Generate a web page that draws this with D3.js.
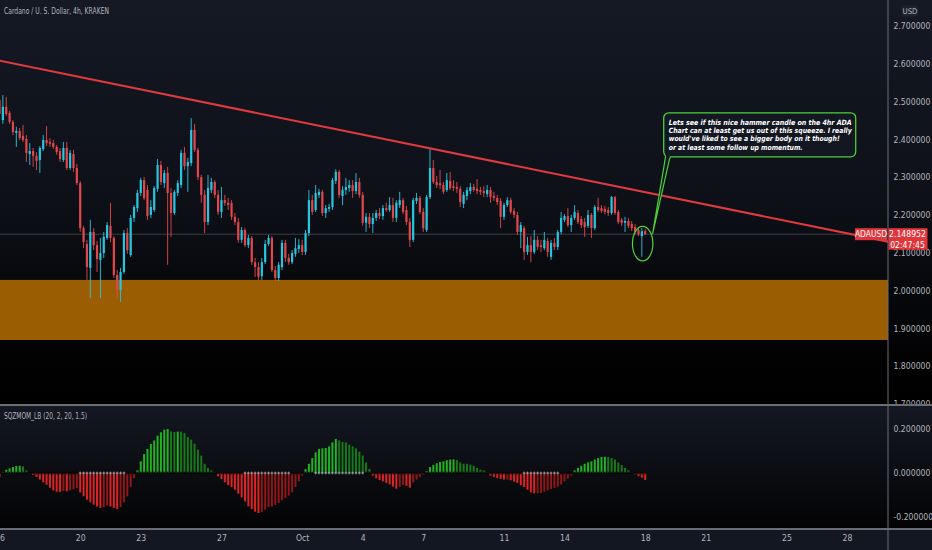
<!DOCTYPE html>
<html><head><meta charset="utf-8">
<script src="https://cdn.jsdelivr.net/npm/d3@7/dist/d3.min.js"></script>
<style>html,body{margin:0;padding:0;background:#131722;overflow:hidden}</style>
</head><body><svg id="c" width="932" height="550"></svg>
<script>
// ---------- DATA ----------
const startTime = "2021-09-16T00:00:00Z";
const barHours = 4;
const opens = [2.504,2.451,2.486,2.470,2.446,2.417,2.422,2.409,2.401,2.361,
2.369,2.356,2.345,2.374,2.398,2.393,2.390,2.380,2.369,2.345,
2.377,2.324,2.361,2.324,2.284,2.165,2.123,2.060,2.155,2.120,
2.081,2.099,2.139,2.171,2.139,2.041,2.001,2.049,2.152,2.094,
2.192,2.218,2.258,2.292,2.266,2.200,2.213,2.269,2.332,2.284,
2.311,2.258,2.205,2.258,2.279,2.364,2.329,2.337,2.425,2.372,
2.300,2.253,2.181,2.266,2.287,2.253,2.208,2.239,2.232,2.232,
2.195,2.181,2.134,2.160,2.120,2.139,2.075,2.062,2.038,2.075,
2.123,2.139,2.054,2.033,2.062,2.126,2.086,2.075,2.097,2.110,
2.120,2.102,2.152,2.239,2.213,2.253,2.261,2.205,2.216,2.221,
2.290,2.314,2.250,2.266,2.271,2.279,2.263,2.287,2.253,2.179,
2.195,2.176,2.192,2.205,2.197,2.218,2.213,2.226,2.192,2.226,
2.239,2.213,2.181,2.134,2.237,2.245,2.208,2.160,2.247,2.324,
2.287,2.284,2.279,2.266,2.290,2.276,2.274,2.269,2.229,2.250,
2.263,2.274,2.269,2.266,2.263,2.255,2.266,2.250,2.245,2.237,
2.195,2.226,2.239,2.210,2.200,2.155,2.165,2.102,2.120,2.102,
2.134,2.120,2.112,2.131,2.089,2.126,2.115,2.155,2.187,2.197,
2.173,2.192,2.205,2.189,2.181,2.171,2.200,2.165,2.221,2.218,
2.216,2.213,2.205,2.247,2.208,2.187,2.179,2.184,2.176,2.168,
2.160,2.144,2.157];
const highs = [2.515,2.517,2.512,2.475,2.451,2.433,2.430,2.438,2.411,2.390,
2.377,2.366,2.382,2.411,2.435,2.403,2.398,2.385,2.377,2.393,
2.393,2.372,2.372,2.335,2.290,2.171,2.134,2.187,2.165,2.131,
2.139,2.155,2.181,2.232,2.144,2.054,2.060,2.160,2.165,2.200,
2.226,2.266,2.298,2.300,2.279,2.239,2.276,2.348,2.343,2.319,
2.327,2.271,2.266,2.292,2.372,2.380,2.351,2.456,2.441,2.377,
2.306,2.266,2.306,2.298,2.292,2.266,2.274,2.253,2.245,2.239,
2.205,2.192,2.168,2.165,2.147,2.144,2.086,2.075,2.086,2.134,
2.147,2.144,2.065,2.075,2.134,2.134,2.097,2.107,2.139,2.136,
2.134,2.160,2.266,2.253,2.279,2.269,2.266,2.226,2.229,2.298,
2.321,2.319,2.276,2.298,2.292,2.292,2.311,2.298,2.261,2.205,
2.205,2.205,2.213,2.218,2.226,2.232,2.247,2.245,2.239,2.261,
2.245,2.224,2.192,2.245,2.258,2.250,2.218,2.253,2.377,2.345,
2.303,2.319,2.287,2.311,2.314,2.292,2.287,2.276,2.261,2.274,
2.284,2.282,2.295,2.274,2.276,2.279,2.274,2.261,2.253,2.245,
2.232,2.247,2.245,2.218,2.208,2.181,2.171,2.142,2.144,2.160,
2.144,2.134,2.155,2.139,2.134,2.139,2.160,2.208,2.202,2.218,
2.200,2.226,2.213,2.197,2.192,2.213,2.205,2.226,2.245,2.226,
2.224,2.221,2.250,2.250,2.213,2.192,2.195,2.192,2.184,2.176,
2.165,2.165,2.163];
const lows = [2.462,2.441,2.462,2.441,2.411,2.380,2.398,2.393,2.340,2.332,
2.327,2.319,2.311,2.369,2.382,2.380,2.374,2.359,2.340,2.340,
2.319,2.319,2.314,2.279,2.155,2.112,2.028,1.980,2.107,2.049,
1.980,2.086,2.134,2.128,2.033,1.980,1.970,2.044,2.097,2.089,
2.181,2.208,2.250,2.239,2.187,2.192,2.208,2.261,2.279,2.271,
2.068,2.142,2.200,2.250,2.271,2.319,2.261,2.329,2.366,2.292,
2.232,2.152,2.173,2.258,2.245,2.200,2.192,2.224,2.213,2.187,
2.173,2.126,2.126,2.115,2.112,2.068,2.036,2.028,2.028,2.070,
2.118,2.049,2.025,2.025,2.054,2.075,2.068,2.070,2.089,2.099,
2.094,2.094,2.144,2.200,2.208,2.245,2.197,2.192,2.208,2.213,
2.282,2.245,2.226,2.253,2.261,2.245,2.255,2.245,2.171,2.155,
2.165,2.152,2.184,2.189,2.187,2.208,2.208,2.181,2.181,2.218,
2.202,2.173,2.115,2.128,2.229,2.202,2.155,2.155,2.242,2.282,
2.271,2.269,2.255,2.261,2.266,2.263,2.258,2.221,2.218,2.239,
2.255,2.261,2.255,2.253,2.247,2.247,2.232,2.237,2.226,2.165,
2.187,2.221,2.202,2.192,2.147,2.112,2.081,2.094,2.075,2.097,
2.107,2.102,2.107,2.089,2.081,2.107,2.107,2.149,2.181,2.168,
2.155,2.187,2.176,2.165,2.142,2.165,2.139,2.160,2.208,2.205,
2.202,2.197,2.200,2.200,2.176,2.171,2.155,2.165,2.157,2.149,
2.144,2.089,2.147];
const closes = [2.467,2.486,2.467,2.446,2.419,2.422,2.403,2.398,2.364,2.369,
2.356,2.343,2.377,2.398,2.390,2.388,2.380,2.366,2.348,2.377,
2.324,2.364,2.324,2.284,2.165,2.128,2.062,2.155,2.120,2.083,
2.099,2.142,2.173,2.139,2.041,2.001,2.049,2.152,2.107,2.192,
2.221,2.258,2.292,2.245,2.197,2.221,2.271,2.332,2.287,2.311,
2.258,2.205,2.261,2.284,2.364,2.329,2.340,2.425,2.372,2.300,
2.253,2.181,2.271,2.287,2.253,2.208,2.239,2.232,2.226,2.195,
2.181,2.134,2.160,2.120,2.139,2.075,2.062,2.036,2.075,2.123,
2.139,2.054,2.033,2.068,2.126,2.086,2.075,2.099,2.112,2.120,
2.102,2.152,2.239,2.208,2.258,2.261,2.205,2.218,2.221,2.292,
2.314,2.253,2.266,2.274,2.279,2.263,2.287,2.253,2.179,2.195,
2.176,2.192,2.205,2.197,2.218,2.213,2.226,2.192,2.232,2.239,
2.208,2.181,2.134,2.239,2.245,2.208,2.165,2.247,2.324,2.287,
2.279,2.279,2.261,2.292,2.271,2.271,2.269,2.234,2.253,2.266,
2.274,2.266,2.263,2.261,2.258,2.266,2.247,2.245,2.234,2.195,
2.226,2.239,2.208,2.200,2.155,2.173,2.102,2.120,2.102,2.134,
2.115,2.115,2.134,2.102,2.126,2.115,2.155,2.192,2.197,2.173,
2.192,2.208,2.181,2.173,2.168,2.200,2.165,2.221,2.213,2.210,
2.208,2.205,2.247,2.205,2.181,2.179,2.184,2.171,2.165,2.155,
2.149,2.157,2.149];
const momentum = [-0.018,0.005,0.015,0.021,0.027,0.032,0.033,0.030,0.012,-0.003,
-0.009,-0.018,-0.030,-0.042,-0.053,-0.067,-0.079,-0.085,-0.086,-0.082,
-0.083,-0.079,-0.073,-0.068,-0.088,-0.106,-0.121,-0.133,-0.144,-0.152,
-0.159,-0.155,-0.148,-0.152,-0.159,-0.164,-0.155,-0.133,-0.106,-0.064,
-0.023,0.012,0.053,0.086,0.109,0.132,0.148,0.170,0.185,0.197,
0.200,0.189,0.186,0.188,0.188,0.182,0.164,0.152,0.133,0.106,
0.079,0.042,0.023,0.012,0.003,-0.015,-0.027,-0.042,-0.055,-0.064,
-0.076,-0.094,-0.111,-0.129,-0.152,-0.164,-0.176,-0.182,-0.177,-0.167,
-0.155,-0.152,-0.145,-0.136,-0.124,-0.114,-0.103,-0.088,-0.064,-0.038,
-0.012,0.018,0.042,0.068,0.094,0.109,0.112,0.114,0.121,0.139,
0.155,0.148,0.141,0.139,0.129,0.121,0.112,0.097,0.079,0.048,
0.018,-0.012,-0.024,-0.032,-0.038,-0.045,-0.052,-0.062,-0.071,-0.064,
-0.055,-0.058,-0.067,-0.042,-0.030,-0.018,-0.008,0.008,0.027,0.036,
0.044,0.050,0.053,0.058,0.061,0.062,0.059,0.048,0.042,0.042,
0.038,0.033,0.023,0.015,0.012,0.003,-0.012,-0.018,-0.023,-0.027,
-0.030,-0.030,-0.033,-0.039,-0.045,-0.055,-0.064,-0.076,-0.088,-0.092,
-0.092,-0.091,-0.085,-0.079,-0.073,-0.068,-0.062,-0.052,-0.038,-0.026,
-0.012,0.012,0.023,0.033,0.042,0.048,0.053,0.061,0.068,0.073,
0.074,0.073,0.068,0.061,0.048,0.036,0.023,0.012,0.003,-0.006,
-0.014,-0.021,-0.032];
const sqzOffRanges = [[24,37],[73,86],[94,108],[156,166]];
const priceTicks = [2.7,2.6,2.5,2.4,2.3,2.2,2.1,2.0,1.9,1.8,1.7];
const momTicks = [0.2,0,-0.2];
const dateTicks = ["2021-09-16","2021-09-20","2021-09-23","2021-09-27","2021-10-01","2021-10-04","2021-10-07","2021-10-11","2021-10-14","2021-10-18","2021-10-21","2021-10-25","2021-10-28"];
const dateLabels = ["16","20","23","27","Oct","4","7","11","14","18","21","25","28"];
const zoneTop = 2.028, zoneBottom = 1.869;
const trendPts = [["2021-09-16T00:00:00Z",2.608],["2021-10-07T08:00:00Z",2.376]];
const lastPrice = 2.148952;
const countdown = "02:47:45";
const symbol = "ADAUSD";
const title = "Cardano / U. S. Dollar, 4h, KRAKEN";
const indTitle = "SQZMOM_LB (20, 2, 20, 1.5)";
const noteLines = ["Lets see if this nice hammer candle on the 4hr ADA",
  "Chart can at least get us out of this squeeze. I really",
  "would've liked to see a bigger body on it though!",
  "or at least some follow up momentum."];
const noteAt = ["2021-10-18T22:00:00Z", 2.470];
const circleAt = [191, 2.124];

// ---------- LAYOUT ----------
const W = 932, H = 550, axisX = 888;
const mainBottom = 404, indTop = 406, indBottom = 528, xAxisTop = 529;
const FONT = '"Liberation Sans Narrow","Arial Narrow","DejaVu Sans Condensed",sans-serif';
const TXT = "#b2b5be";
const UP = "#27c6e0", DOWN = "#e2474c";

const svg = d3.select("#c");
const defs = svg.append("defs");
function grad(id, stops){
  const g = defs.append("linearGradient").attr("id", id).attr("x1",0).attr("y1",0).attr("x2",0).attr("y2",1);
  stops.forEach(s => g.append("stop").attr("offset", s[0]).attr("stop-color", s[1]));
}
grad("gMain", [["0%","#151924"],["50%","#0d1017"],["88%","#020203"],["100%","#000"]]);
grad("gInd", [["0%","#141822"],["100%","#030304"]]);
function clip(id, x, y, w, h){ defs.append("clipPath").attr("id", id).append("rect").attr("x",x).attr("y",y).attr("width",w).attr("height",h); }
clip("cMain", 0, 0, axisX, mainBottom);
clip("cInd", 0, indTop, axisX, indBottom - indTop);
clip("cAxMain", axisX, 0, W - axisX, mainBottom);
clip("cXAx", 0, xAxisTop, axisX, H - xAxisTop);

svg.append("rect").attr("x",0).attr("y",0).attr("width",W).attr("height",mainBottom+1).attr("fill","url(#gMain)");
svg.append("rect").attr("x",0).attr("y",indTop-1).attr("width",W).attr("height",indBottom-indTop+2).attr("fill","url(#gInd)");
svg.append("rect").attr("x",0).attr("y",xAxisTop).attr("width",W).attr("height",H-xAxisTop).attr("fill","#131722");

// ---------- SCALES ----------
const t0 = new Date(startTime).getTime();
const bars = opens.map((o, i) => ({t: new Date(t0 + i*barHours*3600e3), o, h: highs[i], l: lows[i], c: closes[i], m: momentum[i], i}));
const x = d3.scaleUtc().domain([new Date("2021-09-16T00:00:00Z"), new Date("2021-10-28T00:00:00Z")]).range([-0.5, 847]);
const y = d3.scaleLinear().domain([1.7, 2.7]).range([403.9, 25.9]);
const ym = d3.scaleLinear().domain([-0.2, 0.2]).range([517, 429]);

// ---------- MAIN PANE ----------
const gMain = svg.append("g").attr("clip-path","url(#cMain)");
gMain.append("rect").attr("x",0).attr("width",axisX)
  .attr("y", y(zoneTop)).attr("height", y(zoneBottom) - y(zoneTop)).attr("fill","#9a5d02");
gMain.append("line").attr("x1",0).attr("x2",axisX).attr("y1",y(lastPrice)).attr("y2",y(lastPrice))
  .attr("stroke","#3a3d46").attr("stroke-width",1);

const bw = 2.2;
const cg = gMain.append("g");
cg.selectAll("line.w").data(bars).join("line").attr("class","w")
  .attr("x1", d => x(d.t)).attr("x2", d => x(d.t))
  .attr("y1", d => y(d.h)).attr("y2", d => y(d.l))
  .attr("stroke", d => d.c >= d.o ? UP : DOWN).attr("stroke-width", 0.9);
cg.selectAll("rect.b").data(bars).join("rect").attr("class","b")
  .attr("x", d => x(d.t) - bw/2).attr("width", bw)
  .attr("y", d => y(Math.max(d.o, d.c)))
  .attr("height", d => Math.max(1, Math.abs(y(d.o) - y(d.c))))
  .attr("fill", d => d.c >= d.o ? UP : DOWN);

// trend line extended to the axis
const ta = {t: new Date(trendPts[0][0]), p: trendPts[0][1]}, tb = {t: new Date(trendPts[1][0]), p: trendPts[1][1]};
const slope = (tb.p - ta.p) / (tb.t - ta.t);
const tEnd = x.invert(axisX);
gMain.append("line")
  .attr("x1", x(ta.t)).attr("y1", y(ta.p))
  .attr("x2", x(tEnd)).attr("y2", y(ta.p + slope*(tEnd - ta.t)))
  .attr("stroke","#e0393f").attr("stroke-width",2.1);

// annotation
const green = "#4cd137";
const nx = x(new Date(noteAt[0])), ny = y(noteAt[1]);
const boxW = 192, boxH = 44;
const ccx = x(bars[circleAt[0]].t) + 0.8, ccy = y(circleAt[1]);
const ag = gMain.append("g");
ag.append("path")
  .attr("d", `M${nx+2},${ny+boxH-1} L${nx+6.5},${ny+boxH-1} L${ccx+10},${ccy-10} Z`)
  .attr("fill","#131722").attr("stroke",green).attr("stroke-width",1.2).attr("stroke-linejoin","round");
ag.append("rect").attr("x",nx).attr("y",ny).attr("width",boxW).attr("height",boxH).attr("rx",5)
  .attr("fill","#131722").attr("stroke",green).attr("stroke-width",1.3);
ag.append("rect").attr("x",nx+2.2).attr("y",ny+boxH-2).attr("width",3.9).attr("height",3).attr("fill","#131722");
ag.append("ellipse").attr("cx",ccx).attr("cy",ccy).attr("rx",10.2).attr("ry",17.3)
  .attr("fill","none").attr("stroke",green).attr("stroke-width",1.2);
const noteW = [183, 183, 171, 134];
ag.selectAll("text").data(noteLines).join("text")
  .attr("x", nx + 5).attr("y", (d,i) => ny + 12 + i*8.3)
  .attr("textLength", (d,i) => noteW[i]).attr("lengthAdjust","spacingAndGlyphs")
  .attr("fill","#ffffff").style("font-family",FONT).style("font-size","7.2px")
  .style("font-weight","bold").style("font-style","italic").text(d => d);

// title
svg.append("text").attr("x",4).attr("y",13.5).attr("fill",TXT).style("font-family",FONT).style("font-size","8.6px")
  .attr("textLength",105).attr("lengthAdjust","spacingAndGlyphs").text(title);

// ---------- INDICATOR PANE ----------
const gInd = svg.append("g").attr("clip-path","url(#cInd)");
function histColor(d, i){
  const prev = i > 0 ? momentum[i-1] : 0;
  if (d.m > 0) return d.m > prev ? "#22b322" : "#177a17";
  return d.m < prev ? "#dd2323" : "#8e1717";
}
gInd.selectAll("rect.h").data(bars).join("rect").attr("class","h")
  .attr("x", d => x(d.t) - 1).attr("width", 2)
  .attr("y", d => Math.min(ym(d.m), ym(0))).attr("height", d => Math.abs(ym(d.m) - ym(0)))
  .attr("fill", histColor);
const sqzOff = i => sqzOffRanges.some(r => i >= r[0] && i <= r[1]);
const crossG = gInd.selectAll("g.cr").data(bars).join("g").attr("class","cr")
  .attr("transform", d => `translate(${x(d.t)},${ym(0)})`)
  .attr("stroke", d => sqzOff(d.i) ? "#a9acb3" : "#000").attr("stroke-width", 0.8);
crossG.append("line").attr("x1",-1.4).attr("x2",1.4).attr("y1",0).attr("y2",0);
crossG.append("line").attr("x1",0).attr("x2",0).attr("y1",-1.4).attr("y2",1.4);
svg.append("text").attr("x",4).attr("y",419).attr("fill",TXT).style("font-family",FONT).style("font-size","8.6px")
  .attr("textLength",83).attr("lengthAdjust","spacingAndGlyphs").text(indTitle);

// ---------- AXES ----------
function styleAxis(g){
  g.select(".domain").remove();
  g.attr("font-family", null).attr("font-size", null);
  g.selectAll("text").attr("fill", TXT).style("font-family", FONT).style("font-size","8.6px");
}
svg.append("g").attr("clip-path","url(#cAxMain)").append("g").attr("transform",`translate(${axisX+5.5},0)`)
  .call(d3.axisRight(y).tickValues(priceTicks).tickFormat(d => d.toFixed(6)).tickSize(0).tickPadding(0))
  .call(styleAxis);
svg.append("g").attr("transform",`translate(${axisX+5.5},0)`)
  .call(d3.axisRight(ym).tickValues(momTicks).tickFormat(d => d.toFixed(6)).tickSize(0).tickPadding(0))
  .call(styleAxis);
svg.append("g").attr("clip-path","url(#cXAx)").append("g").attr("transform",`translate(0,${xAxisTop})`)
  .call(d3.axisBottom(x).tickValues(dateTicks.map(d => new Date(d + "T00:00:00Z"))).tickFormat((d,i) => dateLabels[i]).tickSize(0).tickPadding(5.5))
  .call(styleAxis);

// separators
const sep = "#8b8e97";
svg.append("line").attr("x1",0).attr("x2",W).attr("y1",405).attr("y2",405).attr("stroke",sep).attr("stroke-width",1.4);
svg.append("line").attr("x1",0).attr("x2",W).attr("y1",xAxisTop).attr("y2",xAxisTop).attr("stroke",sep).attr("stroke-width",1.4);
svg.append("line").attr("x1",axisX).attr("x2",axisX).attr("y1",0).attr("y2",H).attr("stroke","#6c6f78").attr("stroke-width",1);

// USD box
svg.append("rect").attr("x",902).attr("y",5.5).attr("width",16).attr("height",11).attr("rx",2).attr("fill","#1e222d");
svg.append("text").attr("x",910).attr("y",13.8).attr("text-anchor","middle").attr("fill",TXT)
  .style("font-family",FONT).style("font-size","7.8px").text("USD");

// price labels
const py = y(lastPrice);
const red = "#e0353b";
svg.append("rect").attr("x",855).attr("y",py-6).attr("width",32).attr("height",12).attr("fill",red);
svg.append("text").attr("x",871).attr("y",py+3).attr("text-anchor","middle").attr("fill","#fff")
  .style("font-family",FONT).style("font-size","8.4px").text(symbol);
svg.append("rect").attr("x",axisX+0.5).attr("y",py-6).attr("width",39).attr("height",21.5).attr("fill",red);
svg.append("text").attr("x",axisX+19.5).attr("y",py+3).attr("text-anchor","middle").attr("fill","#fff")
  .style("font-family",FONT).style("font-size","8.6px").text(lastPrice.toFixed(6));
svg.append("text").attr("x",axisX+19.5).attr("y",py+13.5).attr("text-anchor","middle").attr("fill","#fff")
  .style("font-family",FONT).style("font-size","8.6px").text(countdown);
</script></body></html>
